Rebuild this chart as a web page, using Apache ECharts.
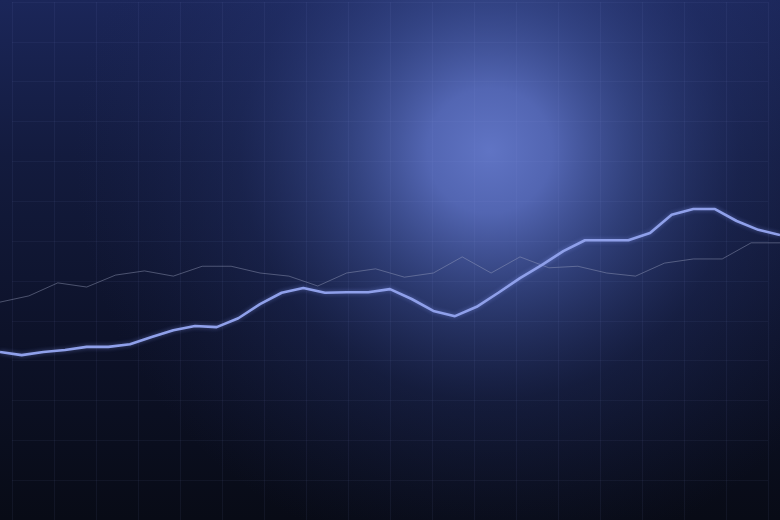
<!DOCTYPE html>
<html>
<head>
<meta charset="utf-8">
<script src="https://cdn.jsdelivr.net/npm/echarts@6/dist/echarts.min.js"></script>
<style>html,body{margin:0;padding:0;background:#0b0f1e;}#c{width:780px;height:520px;}</style>
</head>
<body>
<div id="c"></div>
<script>
// Main (thick) series values
var mainValues = [32.3,31.7,32.3,32.7,33.3,33.3,33.8,35.2,36.5,37.3,37.1,38.8,41.5,43.7,44.6,43.7,43.8,43.8,44.4,42.5,40.2,39.2,41.0,43.7,46.5,49.0,51.7,53.8,53.8,53.8,55.2,58.7,59.8,59.8,57.5,55.8,54.8];
var mainCats = mainValues.map(function(_, i){ return 'A' + (i + 1); });
// Secondary (thin) series values
var refValues = [41.9,43.1,45.6,44.8,47.1,47.9,46.9,48.8,48.8,47.5,46.9,45.0,47.5,48.3,46.7,47.5,50.6,47.5,50.6,48.5,48.8,47.5,46.9,49.4,50.2,50.2,53.3,53.3];
var refCats = refValues.map(function(_, i){ return 'B' + (i + 1); });
// Decorative grid cells
var gridCols = 18;
var gridRows = 13;

var chart = echarts.init(document.getElementById('c'));
var hidden = {show:false};
chart.setOption({
  backgroundColor: {type:'linear', x:0, y:0, x2:0, y2:1, colorStops:[
    {offset:0, color:'#1b2659'},
    {offset:0.3, color:'#131b3e'},
    {offset:0.65, color:'#0d1229'},
    {offset:1, color:'#080b16'}
  ]},
  animation: false,
  graphic: [{
    type:'rect', z:-5, silent:true,
    shape:{x:0, y:0, width:780, height:520},
    style:{fill:{type:'radial', x:0.628, y:0.29, r:0.8, colorStops:[
      {offset:0, color:'rgba(96,116,196,1)'},
      {offset:0.15, color:'rgba(88,108,188,0.92)'},
      {offset:0.35, color:'rgba(66,86,160,0.62)'},
      {offset:0.6, color:'rgba(44,60,125,0.28)'},
      {offset:1, color:'rgba(30,40,90,0)'}
    ]}}
  }],
  grid: [
    {left:-7, right:-4, top:0, bottom:0},
    {left:-15, right:-18, top:0, bottom:0},
    {left:12, right:12, top:2, bottom:-15}
  ],
  xAxis: [
    {type:'category', gridIndex:0, data:mainCats, boundaryGap:false, show:false},
    {type:'category', gridIndex:1, data:refCats, boundaryGap:false, show:false},
    {type:'value', gridIndex:2, min:0, max:gridCols, interval:1, axisLine:hidden, axisTick:hidden, axisLabel:hidden,
      splitLine:{show:true, lineStyle:{color:'rgba(150,170,235,0.065)', width:1}}}
  ],
  yAxis: [
    {type:'value', gridIndex:0, min:0, max:100, show:false},
    {type:'value', gridIndex:1, min:0, max:100, show:false},
    {type:'value', gridIndex:2, min:0, max:gridRows, interval:1, axisLine:hidden, axisTick:hidden, axisLabel:hidden,
      splitLine:{show:true, lineStyle:{color:'rgba(150,170,235,0.06)', width:1}}}
  ],
  series: [
    {type:'line', xAxisIndex:1, yAxisIndex:1, data:refValues, symbol:'none', z:3,
      lineStyle:{color:'rgba(160,166,195,0.42)', width:1}},
    {type:'line', xAxisIndex:0, yAxisIndex:0, data:mainValues, symbol:'none', z:4,
      lineStyle:{color:'#8fa0ea', width:2.6, shadowBlur:4, shadowColor:'rgba(140,160,255,0.45)'}}
  ]
});
</script>
</body>
</html>
